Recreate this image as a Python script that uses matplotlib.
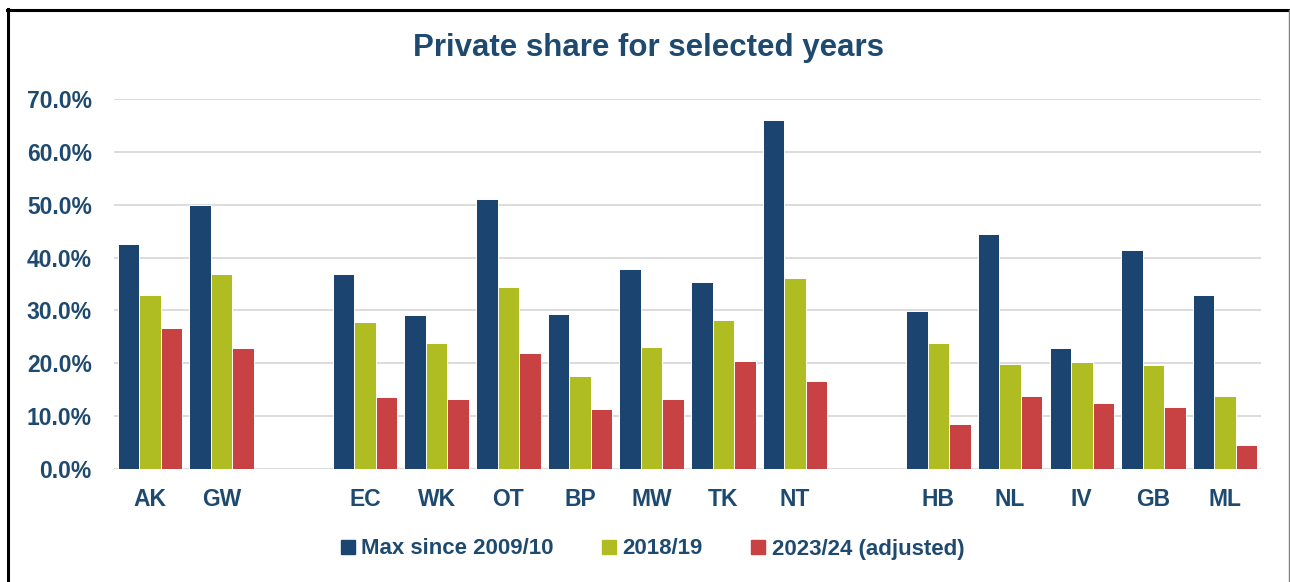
import numpy as np
import matplotlib
matplotlib.use('Agg')
import matplotlib.pyplot as plt
from matplotlib.lines import Line2D
from matplotlib.ticker import FuncFormatter

plt.rcParams['font.family'] = ['Liberation Sans', 'DejaVu Sans']

# regions (empty strings are the gaps between the groups)
regions = ['AK', 'GW', '', 'EC', 'WK', 'OT', 'BP', 'MW', 'TK', 'NT', '',
           'HB', 'NL', 'IV', 'GB', 'ML']

nan = np.nan
max_since_2009 = [42.6, 50.0, nan, 36.8, 29.1, 51.0, 29.3, 37.8, 35.4, 66.1, nan,
                  29.8, 44.5, 22.9, 41.5, 32.9]
share_2018 = [32.9, 36.8, nan, 27.9, 23.8, 34.4, 17.6, 23.1, 28.2, 36.2, nan,
              23.8, 19.9, 20.2, 19.7, 13.9]
share_2023 = [26.7, 22.9, nan, 13.7, 13.2, 21.9, 11.3, 13.2, 20.4, 16.6, nan,
              8.6, 13.9, 12.5, 11.7, 4.5]

series_names = ['Max since 2009/10', '2018/19', '2023/24 (adjusted)']
colors = ['#1B4570', '#AFBD22', '#C84243']
text_col = '#1F4A70'
grid_col = '#D9D9D9'

fig = plt.figure(figsize=(12.9, 5.82), dpi=100)
ax = fig.add_axes([114 / 1290, 1 - 469 / 582, (1261 - 114) / 1290, (469 - 99) / 582])

x = np.arange(len(regions))
w = 0.3
handles = []
for i, (vals, c, name) in enumerate(zip([max_since_2009, share_2018, share_2023], colors, series_names)):
    b = ax.bar(x + (i - 1) * w, vals, width=w, color=c, edgecolor='white',
               linewidth=0.7, zorder=3, label=name)
    handles.append(b)

ax.set_xlim(-0.5, len(regions) - 0.5)
ax.set_ylim(0, 70)
ax.set_yticks(np.arange(0, 71, 10))
ax.yaxis.set_major_formatter(FuncFormatter(lambda v, p: f'{v:.1f}%'))
ax.set_xticks(x)
ax.set_xticklabels(regions)
ax.grid(axis='y', color=grid_col, linewidth=1.3, zorder=0)
ax.set_axisbelow(True)
for s in ax.spines.values():
    s.set_visible(False)
ax.tick_params(axis='both', length=0, labelsize=16.5, labelcolor=text_col)
ax.tick_params(axis='y', pad=16)
ax.tick_params(axis='x', pad=14)
for lbl in ax.get_xticklabels() + ax.get_yticklabels():
    lbl.set_fontweight('bold')

fig.text(0.503, 1 - 48 / 582, 'Private share for selected years', ha='center', va='center',
         fontsize=22.5, fontweight='bold', color=text_col)

leg_handles = [Line2D([], [], marker='s', linestyle='none', markersize=9.5,
                      markerfacecolor=c, markeredgecolor=c) for c in colors]
leg = fig.legend(leg_handles, series_names, loc='center', bbox_to_anchor=(0.506, 1 - 549 / 582),
                 ncol=3, frameon=False, handlelength=0.6, handletextpad=0.3,
                 columnspacing=2.2, prop={'size': 16, 'weight': 'bold'})
for t in leg.get_texts():
    t.set_color(text_col)

# border around the chart
fig.add_artist(Line2D([8 / 1290, 8 / 1290], [0, 1 - 9 / 582], transform=fig.transFigure,
                      color='black', linewidth=2.2))
fig.add_artist(Line2D([7 / 1290, 1289 / 1290], [1 - 10 / 582, 1 - 10 / 582], transform=fig.transFigure,
                      color='black', linewidth=2.2))
fig.add_artist(Line2D([1289 / 1290, 1289 / 1290], [0, 1 - 10 / 582], transform=fig.transFigure,
                      color='#808080', linewidth=1.0))

fig.savefig('out.png', dpi=100)
